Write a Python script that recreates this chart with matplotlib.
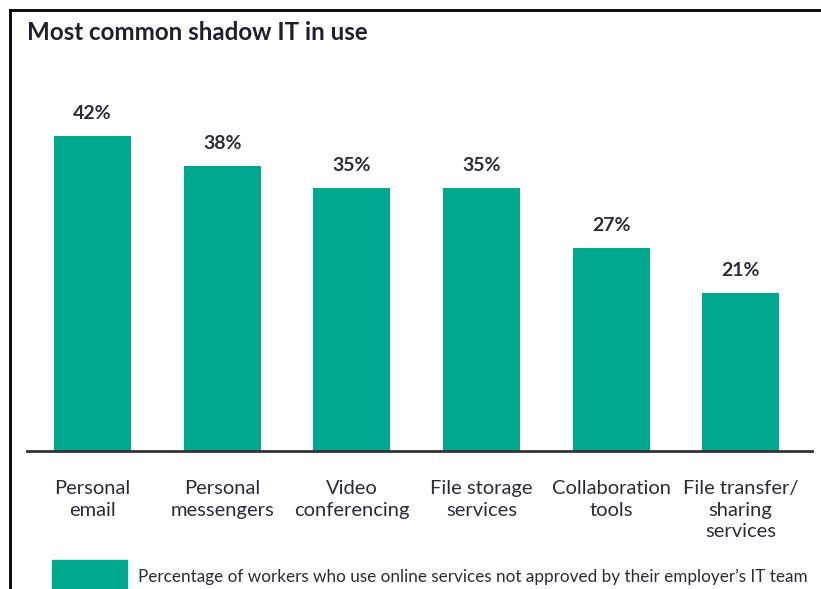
import matplotlib
matplotlib.use("Agg")
import matplotlib.pyplot as plt
from matplotlib.lines import Line2D
from matplotlib.patches import Rectangle

categories = ["Personal\nemail", "Personal\nmessengers", "Video\nconferencing",
              "File storage\nservices", "Collaboration\ntools", "File transfer/\nsharing\nservices"]
values = [42, 38, 35, 35, 27, 21]
value_labels = ["42%", "38%", "35%", "35%", "27%", "21%"]
title = "Most common shadow IT in use"
legend_label = "Percentage of workers who use online services not approved by their employer\u2019s IT team"

W, H = 821, 589
color = "#00a88e"
plt.rcParams['font.family'] = ['Lato', 'DejaVu Sans']

fig = plt.figure(figsize=(W / 100, H / 100), dpi=100)
fig.patch.set_facecolor("white")

def fx(px):
    return px / W

def fy(py):
    return 1 - py / H

ax = fig.add_axes([fx(27), fy(451), fx(812) - fx(27), fy(113) - fy(451)])
x = list(range(len(categories)))
ax.bar(x, values, width=0.594, color=color)
ax.set_xlim(-0.505, 5.55)
ax.set_ylim(0, 45)
for s in ["top", "right", "left"]:
    ax.spines[s].set_visible(False)
ax.spines["bottom"].set_color("#333333")
ax.spines["bottom"].set_linewidth(2)
ax.set_yticks([])
ax.set_xticks(x)
ax.set_xticklabels(categories, fontsize=14.5, color="#2b2b3a", linespacing=1.33, va="top")
ax.tick_params(axis="x", length=0, pad=21)
for xi, v, lab in zip(x, values, value_labels):
    ax.annotate(lab, (xi, v), xytext=(0, 10), textcoords="offset points",
                ha="center", va="bottom", fontsize=14, fontweight="bold", color="#2b2b3a")

fig.text(fx(27), fy(33), title, fontsize=17.4, fontweight="bold", color="#1f1f2e", va="center", ha="left")

# legend
fig.add_artist(Rectangle((fx(52), fy(589)), fx(127) - fx(52), fy(560) - fy(589),
                         transform=fig.transFigure, color=color))
fig.text(fx(138), fy(577), legend_label, fontsize=12.35, color="#2b2b3a", va="center", ha="left")

# frame
fig.add_artist(Line2D([fx(10), fx(10)], [fy(10), 0], transform=fig.transFigure, color="black", lw=2))
fig.add_artist(Line2D([fx(10), 1], [fy(10), fy(10)], transform=fig.transFigure, color="black", lw=2))

fig.savefig("out.png", dpi=100)
